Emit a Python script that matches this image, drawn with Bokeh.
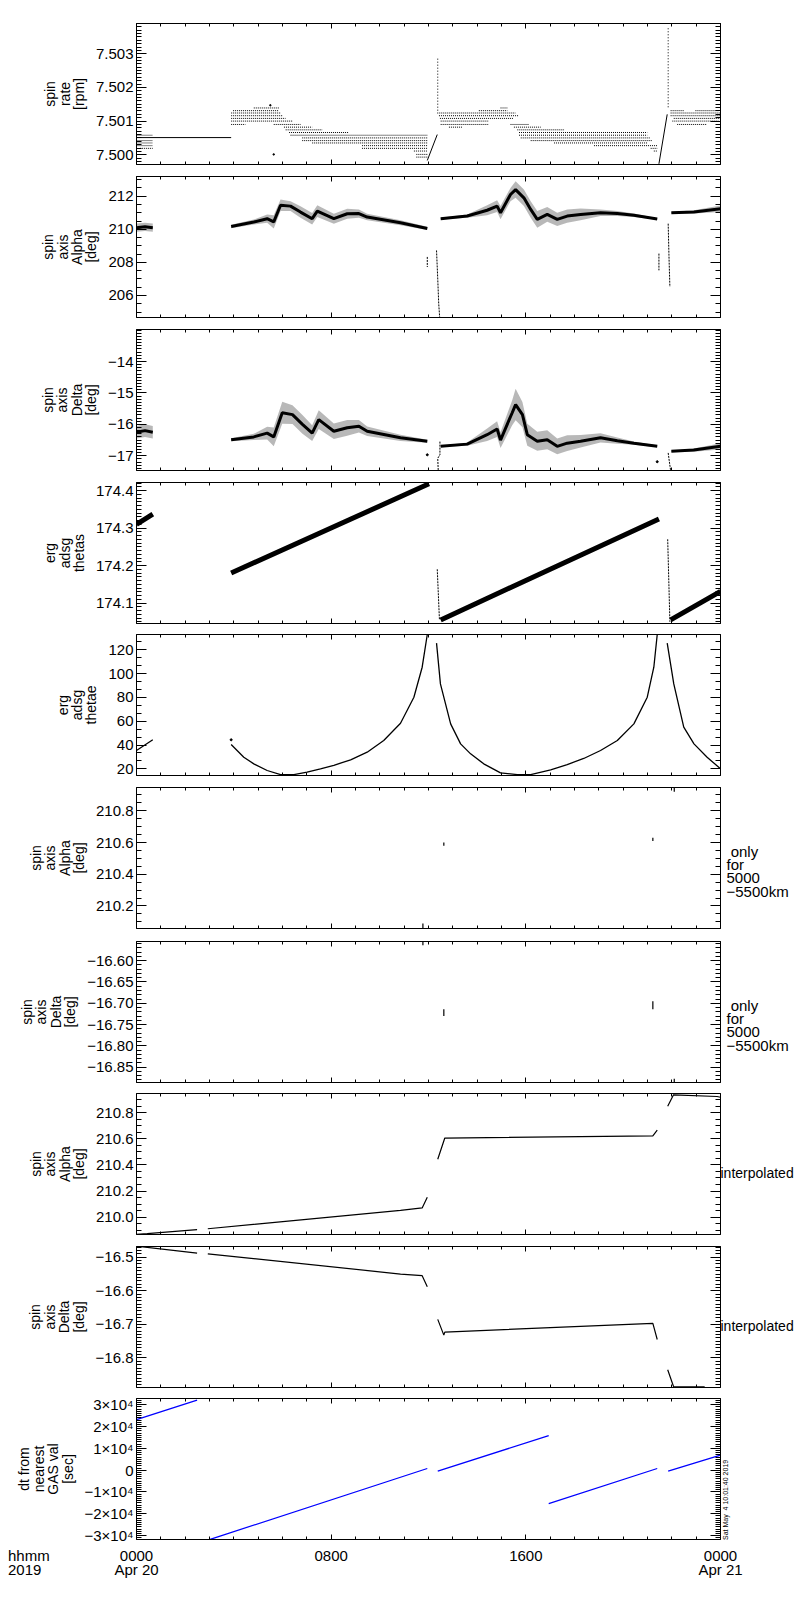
import numpy as np
from bokeh.plotting import figure
from bokeh.models import Range1d, FixedTicker, LinearAxis, CustomJSTickFormatter, Div
from bokeh.layouts import column
from bokeh.embed import file_html
from bokeh.resources import INLINE

nan = float("nan")
FONT = "Liberation Sans"

# ---------------- x axis: hours since 2019-04-20 00:00 ----------------
hour_major = [0, 8, 16, 24]
hour_minor = list(range(25))
hour_labels = ["0000\nApr 20", "0800", "1600", "0000\nApr 21"]
corner_label = ["hhmm", "2019"]
timestamp = "Sat May  4 10:01:40 2019"

# ---------------- panel 1: spin rate [rpm] ----------------
rate_lvl_t0 = [0.0, 0.0, 0.0, 0.0, 0.15,
               3.89, 3.97, 4.82, 3.89, 3.89, 3.89, 3.89,
               5.64, 6.06, 6.13, 6.27, 6.33, 6.81, 6.81, 7.22, 9.27, 9.27, 11.4, 11.5, 11.5,
               14.96, 14.07, 12.36, 12.43, 12.47, 12.50, 12.50, 12.84,
               15.37, 15.51, 15.65, 15.72, 15.72, 15.79, 16.20, 17.16, 18.80, 21.13, 21.26,
               21.95, 22.97, 21.95, 21.95, 22.08, 22.02, 22.22]
rate_lvl_t1 = [0.67, 0.67, 0.67, 0.67, 0.67,
               4.48, 5.85, 5.85, 5.92, 5.99, 6.13, 6.41,
               6.74, 7.22, 7.63, 8.72, 11.95, 11.95, 11.95, 11.95, 11.95, 11.95, 11.95, 11.95, 11.95,
               15.24, 15.24, 15.58, 15.72, 15.51, 14.48, 14.48, 13.39,
               16.13, 16.61, 17.57, 20.99, 20.99, 21.13, 21.19, 20.99, 21.40, 21.40, 21.40,
               22.49, 23.93, 24.0, 24.0, 24.0, 23.93, 23.45]
rate_lvl_v = [7.50058, 7.50042, 7.50035, 7.50027, 7.50019,
              7.50090, 7.50131, 7.50139, 7.50124, 7.50116, 7.50108, 7.50100,
              7.50090, 7.50082, 7.50074, 7.50066, 7.50058, 7.50050, 7.50042, 7.50035, 7.50027, 7.50019, 7.50011, 7.50001, 7.49993,
              7.50139, 7.50131, 7.50124, 7.50116, 7.50108, 7.50100, 7.50090, 7.50082,
              7.50090, 7.50082, 7.50074, 7.50066, 7.50058, 7.50050, 7.50042, 7.50035, 7.50027, 7.50019, 7.50011,
              7.50131, 7.50131, 7.50124, 7.50116, 7.50108, 7.50100, 7.50090]
rate_line_t = [0.0, 3.89, nan, 11.95, 12.36, nan, 21.47, 21.81]
rate_line_v = [7.50051, 7.50051, nan, 7.49983, 7.50060, nan, 7.49973, 7.50120]
rate_spike_t = [12.38, 21.85]
rate_spike_lo = [7.50131, 7.50141]
rate_spike_hi = [7.50290, 7.50381]
rate_dot_t = [5.64, 5.50]
rate_dot_v = [7.50001, 7.50147]

# ---------------- panel 2: spin axis alpha [deg] ----------------
alpha_t = [0.0, 0.35, 0.67, nan,
           3.89, 4.82, 5.37, 5.64, 5.92, 6.33, 6.74, 7.22, 7.43, 8.11, 8.66, 9.14, 9.48, 10.85, 11.95, nan,
           12.50, 13.59, 14.41, 14.82, 14.96, 15.37, 15.58, 15.92, 16.20, 16.47, 16.88, 17.29, 17.70, 18.25,
           19.07, 19.76, 20.44, 21.40, nan,
           21.98, 22.91, 24.0]
alpha_mid = [210.10, 210.15, 210.10, nan,
             210.17, 210.44, 210.64, 210.45, 211.45, 211.40, 211.04, 210.64, 211.10, 210.64, 210.94, 210.95,
             210.74, 210.40, 210.05, nan,
             210.64, 210.80, 211.15, 211.40, 211.00, 212.10, 212.40, 211.90, 211.20, 210.60, 210.90, 210.60,
             210.80, 210.90, 211.00, 210.95, 210.85, 210.62, nan,
             211.00, 211.05, 211.24]
alpha_spread = [0.25, 0.25, 0.25, nan,
                0.10, 0.15, 0.25, 0.40, 0.35, 0.30, 0.35, 0.35, 0.35, 0.30, 0.30, 0.25, 0.20, 0.15, 0.10, nan,
                0.05, 0.10, 0.30, 0.35, 0.40, 0.40, 0.50, 0.50, 0.50, 0.50, 0.45, 0.40, 0.40, 0.35, 0.20,
                0.15, 0.10, 0.05, nan,
                0.05, 0.10, 0.20]
alpha_tr_t = [11.95, 11.95, nan, 12.33, 12.38, 12.42, 12.46, nan, 21.47, 21.47, nan, 21.85, 21.88, 21.92]
alpha_tr_v = [208.33, 207.72, nan, 208.72, 207.00, 205.50, 204.67, nan, 208.53, 207.52, nan, 210.34, 208.50, 206.52]

# ---------------- panel 3: spin axis delta [deg] ----------------
delta_t = [0.0, 0.35, 0.67, nan,
           3.89, 4.82, 5.37, 5.64, 5.99, 6.41, 6.82, 7.22, 7.49, 8.11, 8.66, 9.14, 9.48, 10.85, 11.95, nan,
           12.50, 13.59, 14.41, 14.82, 14.96, 15.44, 15.58, 15.86, 16.06, 16.47, 16.88, 17.29, 17.70, 18.25,
           19.07, 19.76, 20.44, 21.40, nan,
           21.98, 22.90, 24.0]
delta_mid = [-16.25, -16.20, -16.25, nan,
             -16.49, -16.40, -16.28, -16.40, -15.63, -15.69, -16.00, -16.28, -15.85, -16.22, -16.11, -16.06,
             -16.22, -16.43, -16.54, nan,
             -16.70, -16.63, -16.33, -16.15, -16.50, -15.63, -15.37, -15.69, -16.33, -16.54, -16.49, -16.70,
             -16.60, -16.54, -16.43, -16.52, -16.60, -16.70, nan,
             -16.86, -16.82, -16.70]
delta_spread = [0.20, 0.20, 0.20, nan,
                0.05, 0.10, 0.20, 0.30, 0.35, 0.30, 0.30, 0.25, 0.30, 0.25, 0.25, 0.20, 0.15, 0.10, 0.05, nan,
                0.02, 0.05, 0.20, 0.25, 0.25, 0.40, 0.50, 0.40, 0.35, 0.30, 0.30, 0.25, 0.25, 0.20, 0.15,
                0.10, 0.05, 0.03, nan,
                0.02, 0.05, 0.10]
delta_tr_t = [12.47, 12.47, 12.38, 12.40, nan, 21.85, 21.90, 21.95]
delta_tr_v = [-16.55, -16.97, -17.08, -17.47, nan, -16.91, -17.20, -17.47]
delta_dot_t = [11.95, 21.40]
delta_dot_v = [-16.97, -17.19]

# ---------------- panel 4: erg adsg thetas ----------------
thetas_t = [0.0, 0.67, nan, 3.89, 12.02, nan, 12.50, 21.47, nan, 21.95, 24.0]
thetas_v = [174.310, 174.337, nan, 174.180, 174.418, nan, 174.055, 174.324, nan, 174.055, 174.131]
thetas_tr_t = [12.36, 12.45, nan, 21.83, 21.92]
thetas_tr_v = [174.190, 174.055, nan, 174.270, 174.050]

# ---------------- panel 5: erg adsg thetae ----------------
thetae_t = [0.0, 0.67, nan,
            3.89, 4.41, 4.82, 5.37, 5.92, 6.47, 7.01, 7.56, 8.11, 8.80, 9.48, 10.16, 10.85, 11.40, 11.74, 11.95, nan,
            12.33, 12.49, 12.91, 13.32, 13.73, 14.27, 14.96, 15.65, 16.20, 17.02, 17.70, 18.38, 19.07, 19.76,
            20.44, 20.99, 21.26, 21.40, nan,
            21.81, 22.08, 22.49, 22.91, 23.45, 24.0]
thetae_v = [35.4, 44.4, nan,
            40.4, 29.8, 24.2, 18.6, 15.2, 15.2, 17.2, 20.0, 23.0, 27.6, 34.0, 43.8, 58.3, 80.2, 105.4, 132.9, nan,
            125.6, 91.4, 57.8, 41.0, 32.6, 24.2, 16.6, 15.2, 15.2, 19.2, 23.6, 28.7, 35.4, 43.8,
            57.8, 80.2, 105.4, 132.9, nan,
            125.6, 91.4, 55.0, 41.0, 29.8, 20.0]
thetae_dot_t = [3.89]
thetae_dot_v = [44.4]

# ---------------- panel 6/7: only for 5000-5500 km ----------------
alpha_km_t = [11.77, 12.63, 21.22, 22.10]
alpha_km_v0 = [210.090, 210.600, 210.630, 210.947]
alpha_km_v1 = [210.058, 210.580, 210.610, 210.920]
delta_km_t = [11.77, 12.63, 21.22, 22.10]
delta_km_v0 = [-16.555, -16.714, -16.695, -16.877]
delta_km_v1 = [-16.564, -16.730, -16.714, -16.886]

# ---------------- panel 8/9: interpolated ----------------
alpha_int_t = [0.0, 0.44, 2.49, nan, 2.93, 10.85, 11.74, 11.95, nan,
               12.38, 12.67, 21.22, 21.40, nan, 21.83, 22.07, 23.86, 24.0]
alpha_int_v = [209.868, 209.872, 209.903, nan, 209.910, 210.052, 210.070, 210.152, nan,
               210.444, 210.607, 210.624, 210.668, nan, 210.851, 210.939, 210.926, 210.920]
delta_int_t = [0.0, 2.49, nan, 2.93, 10.85, 11.74, 11.95, nan,
               12.38, 12.63, 12.67, 21.22, 21.40, nan, 21.83, 22.07, 23.35]
delta_int_v = [-16.467, -16.488, nan, -16.490, -16.550, -16.555, -16.588, nan,
               -16.685, -16.732, -16.723, -16.697, -16.745, nan, -16.835, -16.885, -16.886]

# ---------------- panel 10: dt from nearest GAS val [sec] ----------------
dt_t = [0.0, 2.49, nan, 2.93, 11.95, nan, 12.38, 16.94, nan, 16.94, 21.40, nan, 21.85, 24.0]
dt_v = [23250, 32100, nan, -32100, 780, nan, -460, 15900, nan, -15300, 780, nan, -460, 6880]

# ---------------- panel axes ----------------
panel_ylabels = ["spin\nrate\n[rpm]", "spin\naxis\nAlpha\n[deg]", "spin\naxis\nDelta\n[deg]",
                 "erg\nadsg\nthetas", "erg\nadsg\nthetae", "spin\naxis\nAlpha\n[deg]",
                 "spin\naxis\nDelta\n[deg]", "spin\naxis\nAlpha\n[deg]", "spin\naxis\nDelta\n[deg]",
                 "dt from\nnearest\nGAS val\n[sec]"]
panel_ylo = [7.49971, 204.67, -17.47, 174.0454, 14.4, 210.058, -16.886, 209.866, -16.888, -31800]
panel_yhi = [7.50390, 213.19, -12.98, 174.4215, 132.9, 210.947, -16.555, 210.949, -16.468, 32900]
panel_major = [[7.500, 7.501, 7.502, 7.503], [206, 208, 210, 212], [-17, -16, -15, -14],
               [174.1, 174.2, 174.3, 174.4], [20, 40, 60, 80, 100, 120], [210.2, 210.4, 210.6, 210.8],
               [-16.85, -16.80, -16.75, -16.70, -16.65, -16.60], [210.0, 210.2, 210.4, 210.6, 210.8],
               [-16.8, -16.7, -16.6, -16.5], [-30000, -20000, -10000, 0, 10000, 20000, 30000]]
panel_minor_step = [0.0001, 0.5, 0.1, 0.01, 20 / 3, 0.05, 0.01, 0.05, 0.01, 1000]
panel_decimals = [3, 0, 0, 1, 0, 1, 2, 1, 1, None]
right_texts = [None, None, None, None, None,
               "\n\n\u00a0only\nfor\n5000\n\u22125500km", "\n\n\u00a0only\nfor\n5000\n\u22125500km",
               "\ninterpolated", "\ninterpolated", None]

N = 10
FRAME_W, FRAME_H = 584, 141
border_top = [23, 6, 6, 6, 5, 6, 7, 5, 6, 5]
BOTTOM_LAST = 40


def blank_fmt():
    return CustomJSTickFormatter(code="return '';")


def num_fmt(dec):
    if dec is None:
        return CustomJSTickFormatter(code="""
            const m = Math.round(tick / 1e4);
            if (m == 0) return "0";
            return (m < 0 ? "\u2212" : "") + Math.abs(m) + "\u00d710\u2074";
        """)
    return CustomJSTickFormatter(args=dict(ndec=dec),
                                 code="return tick.toFixed(ndec).replace('-', '\u2212');")


def axis(ticker, fmt, tick_in, minor_in, label=None, labels_visible=True, standoff=3):
    ax = LinearAxis(ticker=ticker, formatter=fmt,
                    axis_line_color="black", axis_line_width=1,
                    major_tick_line_color="black", minor_tick_line_color="black",
                    major_tick_in=tick_in, major_tick_out=0,
                    minor_tick_in=minor_in, minor_tick_out=0,
                    major_label_text_font=FONT, major_label_text_font_size="15px",
                    major_label_text_color="black", major_label_standoff=standoff,
                    major_label_text_line_height=0.85)
    if not labels_visible:
        ax.major_label_text_font_size = "0px"
        ax.major_label_standoff = 0
    if label is not None:
        ax.axis_label = label
        ax.axis_label_text_font = FONT
        ax.axis_label_text_font_size = "14px"
        ax.axis_label_text_font_style = "normal"
        ax.axis_label_text_color = "black"
        ax.axis_label_standoff = 6
        ax.axis_label_text_line_height = 0.9
    return ax


def split_nan(t, *ys):
    t = np.asarray(t, float)
    ys = [np.asarray(y, float) for y in ys]
    idx = list(np.where(np.isnan(t))[0])
    bounds = [-1] + idx + [len(t)]
    out = []
    for a, b in zip(bounds[:-1], bounds[1:]):
        out.append((t[a + 1:b], [y[a + 1:b] for y in ys]))
    return out


figs = []
for i in range(N):
    last = i == N - 1
    p = figure(frame_width=FRAME_W, frame_height=FRAME_H,
               x_range=Range1d(0, 24), y_range=Range1d(panel_ylo[i], panel_yhi[i]),
               output_backend="svg", toolbar_location=None,
               x_axis_location=None, y_axis_location=None,
               min_border_left=136, min_border_right=56,
               min_border_top=border_top[i], min_border_bottom=BOTTOM_LAST if last else 6,
               background_fill_color="white", border_fill_color="white")
    p.grid.visible = False
    p.outline_line_color = None

    xt = FixedTicker(ticks=hour_major, minor_ticks=hour_minor)
    yminor = list(np.round(panel_major[i][0] + panel_minor_step[i] * np.arange(-40, 200), 6))
    yminor = [v for v in yminor if panel_ylo[i] <= v <= panel_yhi[i]]
    yt = FixedTicker(ticks=panel_major[i], minor_ticks=yminor)

    if last:
        xfmt = CustomJSTickFormatter(args=dict(hticks=hour_major, hlabels=hour_labels),
                                     code="const k = hticks.indexOf(Math.round(tick)); return k >= 0 ? hlabels[k] : '';")
        bottom = axis(xt, xfmt, 5, 3, standoff=7)
    else:
        bottom = axis(xt, blank_fmt(), 5, 3, labels_visible=False)
    top = axis(xt, blank_fmt(), 5, 3, labels_visible=False)
    left = axis(yt, num_fmt(panel_decimals[i]), 10, 5, label=panel_ylabels[i])
    right = axis(yt, blank_fmt(), 10, 5, labels_visible=False)
    if right_texts[i] is not None:
        interp = "interpolated" in right_texts[i]
        right.axis_label = right_texts[i]
        right.axis_label_orientation = "horizontal"
        right.axis_label_text_font = FONT
        right.axis_label_text_font_size = "14px" if interp else "15px"
        right.axis_label_text_font_style = "normal"
        right.axis_label_text_color = "black"
        right.axis_label_text_align = "left"
        right.axis_label_text_line_height = 1.1 if interp else 0.78
        right.axis_label_standoff = 0 if interp else 6
    p.add_layout(bottom, "below")
    p.add_layout(top, "above")
    p.add_layout(left, "left")
    p.add_layout(right, "right")
    figs.append(p)

# ---- draw data ----
p = figs[0]
p.segment(x0=rate_lvl_t0, y0=rate_lvl_v, x1=rate_lvl_t1, y1=rate_lvl_v,
          line_color="black", line_width=1, line_dash="1 1")
p.line(rate_line_t, rate_line_v, line_color="black", line_width=1)
p.segment(x0=rate_spike_t, y0=rate_spike_lo, x1=rate_spike_t, y1=rate_spike_hi,
          line_color="black", line_width=1, line_dash="1 2")
p.scatter(rate_dot_t, rate_dot_v, size=1.5, color="black")

for p, t, mid, spr in [(figs[1], alpha_t, alpha_mid, alpha_spread), (figs[2], delta_t, delta_mid, delta_spread)]:
    for st, (sm, ss) in split_nan(t, mid, spr):
        p.varea(x=st, y1=sm - ss, y2=sm + ss, fill_color="black", fill_alpha=0.28)
    p.line(t, mid, line_color="black", line_width=3)

figs[1].line(alpha_tr_t, alpha_tr_v, line_color="black", line_width=1, line_dash="2 1")
figs[2].line(delta_tr_t, delta_tr_v, line_color="black", line_width=1, line_dash="2 1")
figs[2].scatter(delta_dot_t, delta_dot_v, size=2, color="black")

figs[3].line(thetas_t, thetas_v, line_color="black", line_width=5)
figs[3].line(thetas_tr_t, thetas_tr_v, line_color="black", line_width=1, line_dash="2 1")

figs[4].line(thetae_t, thetae_v, line_color="black", line_width=1.3)
figs[4].scatter(thetae_dot_t, thetae_dot_v, size=2, color="black")

figs[5].segment(x0=alpha_km_t, y0=alpha_km_v0, x1=alpha_km_t, y1=alpha_km_v1, line_color="black", line_width=1.2)
figs[6].segment(x0=delta_km_t, y0=delta_km_v0, x1=delta_km_t, y1=delta_km_v1, line_color="black", line_width=1.2)

figs[7].line(alpha_int_t, alpha_int_v, line_color="black", line_width=1.2)
figs[8].line(delta_int_t, delta_int_v, line_color="black", line_width=1.2)

figs[9].line(dt_t, dt_v, line_color="#0000ff", line_width=1.3)

# ---- texts outside the frames: corner label and print timestamp ----
foot = Div(
    text=(f'<div style="position:absolute;left:8px;top:9px;font-family:\'{FONT}\';font-size:15px;'
          f'line-height:14px;color:black;">{corner_label[0]}<br>{corner_label[1]}</div>'
          f'<div style="position:absolute;left:722px;top:0px;transform-origin:0 0;transform:rotate(-90deg);'
          f'font-family:\'{FONT}\';font-size:7px;line-height:7px;white-space:pre;color:black;">{timestamp}</div>'),
    width=792, height=BOTTOM_LAST, margin=(-BOTTOM_LAST, 0, 0, 0),
    styles={"position": "relative", "z-index": "10", "overflow": "visible"})

page = column(*figs, foot, spacing=0)
open("out.html", "w").write(file_html(page, INLINE))
